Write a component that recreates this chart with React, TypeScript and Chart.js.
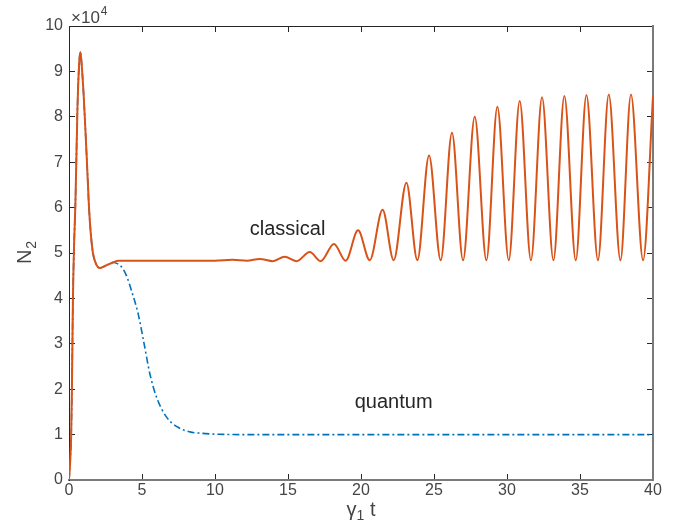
import React, { useEffect, useRef } from "react";
import { Chart, registerables } from "chart.js";

Chart.register(...registerables);

// ---- data (N2 in units of 10^4, time in units of gamma_1 t) ----
const X_TICKS = [0, 5, 10, 15, 20, 25, 30, 35, 40];
const Y_TICKS = [0, 1, 2, 3, 4, 5, 6, 7, 8, 9, 10];

const classicalT = [
  0, 0.08, 0.15, 0.2, 0.27, 0.35, 0.44, 0.58, 0.7, 0.78, 0.88, 1.0, 1.08, 1.23, 1.37, 1.5, 1.64, 1.85, 2.1, 2.5,
  3.0, 3.4, 5, 8, 10, 11.2, 12.2, 13.06, 13.97, 14.77, 15.58, 16.49, 17.24, 18.15, 18.95, 19.8, 20.6, 21.48,
  22.24, 23.11, 23.86, 24.66, 25.46, 26.23, 26.99, 27.79, 28.59, 29.34, 30.12, 30.87, 31.64, 32.4, 33.18,
  33.93, 34.71, 35.44, 36.23, 36.97, 37.77, 38.49, 39.32, 40,
];
const classicalN = [
  0, 0.4, 1.0, 2.0, 4.0, 5.2, 6.1, 8.2, 9.2, 9.43, 9.1, 8.5, 8.0, 7.0, 6.0, 5.4, 5.0, 4.76, 4.67, 4.72,
  4.79, 4.83, 4.83, 4.83, 4.83, 4.85, 4.83, 4.87, 4.82, 4.92, 4.82, 5.02, 4.82, 5.2, 4.83, 5.5, 4.84, 5.95,
  4.84, 6.55, 4.84, 7.15, 4.84, 7.65, 4.84, 8.0, 4.84, 8.22, 4.84, 8.35, 4.84, 8.43, 4.84,
  8.46, 4.84, 8.48, 4.84, 8.49, 4.84, 8.49, 4.84, 8.45,
];

const quantumT = [
  0, 0.08, 0.15, 0.2, 0.27, 0.35, 0.44, 0.58, 0.7, 0.78, 0.88, 1.0, 1.08, 1.23, 1.37, 1.5, 1.64, 1.85, 2.1, 2.5,
  3.0, 3.4, 3.7, 4.0, 4.27, 4.73, 5.18, 5.53, 5.99, 6.67, 7.58, 8.27, 9.0, 10, 12, 40,
];
const quantumN = [
  0, 0.4, 1.0, 2.0, 4.0, 5.2, 6.1, 8.2, 9.2, 9.43, 9.1, 8.5, 8.0, 7.0, 6.0, 5.4, 5.0, 4.76, 4.67, 4.72,
  4.79, 4.75, 4.65, 4.45, 4.18, 3.67, 2.94, 2.35, 1.83, 1.39, 1.14, 1.06, 1.03, 1.01, 1.0, 1.0,
];

const FONT = "'Liberation Sans', Arial, Helvetica, sans-serif";
const TICK_COLOR = "#454545";
const TEXT_COLOR = "#262626";

const textPlugin = {
  id: "texts",
  afterDraw(chart: any) {
    const { ctx, chartArea, scales } = chart;
    const xs = scales.x;
    const ys = scales.y;
    ctx.save();
    // exponent label
    ctx.fillStyle = TICK_COLOR;
    ctx.textAlign = "left";
    ctx.textBaseline = "alphabetic";
    ctx.font = `17px ${FONT}`;
    const ex = chartArea.left + 2;
    const ey = chartArea.top - 3;
    ctx.fillText("×10", ex, ey);
    const w1 = ctx.measureText("×10").width;
    ctx.font = `12px ${FONT}`;
    ctx.fillText("4", ex + w1 + 1, ey - 8);

    // annotations
    ctx.fillStyle = TEXT_COLOR;
    ctx.font = `20px ${FONT}`;
    ctx.fillText("classical", xs.getPixelForValue(12.38), ys.getPixelForValue(5.4));
    ctx.fillText("quantum", xs.getPixelForValue(19.57), ys.getPixelForValue(1.59));

    // x axis title: gamma_1 t
    ctx.fillStyle = TICK_COLOR;
    ctx.font = `20px ${FONT}`;
    const g = "γ";
    const t = " t";
    const gw = ctx.measureText(g).width;
    const tw = ctx.measureText(t).width;
    ctx.font = `14px ${FONT}`;
    const sw = ctx.measureText("1").width;
    const total = gw + sw + tw;
    const cx = (chartArea.left + chartArea.right) / 2;
    const x0 = cx - total / 2;
    const by = 516;
    ctx.font = `20px ${FONT}`;
    ctx.fillText(g, x0, by);
    ctx.font = `14px ${FONT}`;
    ctx.fillText("1", x0 + gw, by + 4);
    ctx.font = `20px ${FONT}`;
    ctx.fillText(t, x0 + gw + sw, by);

    // y axis title: N_2 (rotated)
    ctx.translate(31, (chartArea.top + chartArea.bottom) / 2);
    ctx.rotate(-Math.PI / 2);
    ctx.font = `20px ${FONT}`;
    const nw = ctx.measureText("N").width;
    ctx.font = `14px ${FONT}`;
    const n2w = ctx.measureText("2").width;
    const ny0 = -(nw + n2w) / 2;
    ctx.font = `20px ${FONT}`;
    ctx.fillText("N", ny0, 0);
    ctx.font = `14px ${FONT}`;
    ctx.fillText("2", ny0 + nw + 1, 5);
    ctx.restore();
  },
};

export default function App() {
  const ref = useRef<HTMLCanvasElement | null>(null);

  useEffect(() => {
    if (!ref.current) return;
    const tickFont = { size: 16, family: FONT };
    const chart = new Chart(ref.current, {
      type: "line",
      data: {
        datasets: [
          {
            label: "classical",
            data: classicalT.map((t, i) => ({ x: t, y: classicalN[i] })),
            borderColor: "#D95319",
            borderWidth: 2,
            pointRadius: 0,
            cubicInterpolationMode: "monotone",
            fill: false,
          },
          {
            label: "quantum",
            data: quantumT.map((t, i) => ({ x: t, y: quantumN[i] })),
            borderColor: "#0072BD",
            borderWidth: 1.6,
            borderDash: [7, 3, 2, 3],
            pointRadius: 0,
            cubicInterpolationMode: "monotone",
            fill: false,
          },
        ],
      },
      options: {
        animation: false,
        responsive: false,
        devicePixelRatio: 1,
        layout: { padding: { top: 26, right: 21, left: 0, bottom: 0 } },
        plugins: { legend: { display: false }, tooltip: { enabled: false } },
        scales: {
          x: {
            type: "linear",
            position: "bottom",
            min: 0,
            max: 40,
            afterBuildTicks: (s: any) => {
              s.ticks = X_TICKS.map((v) => ({ value: v }));
            },
            afterFit: (s: any) => {
              s.height = 46;
            },
            grid: { drawOnChartArea: false, tickLength: -6, color: "#262626" },
            border: { color: "#7a7a7a", width: 2 },
            ticks: { padding: 7, color: TICK_COLOR, font: tickFont, maxRotation: 0 },
          },
          y: {
            type: "linear",
            position: "left",
            min: 0,
            max: 10,
            afterBuildTicks: (s: any) => {
              s.ticks = Y_TICKS.map((v) => ({ value: v }));
            },
            afterFit: (s: any) => {
              s.width = 69;
            },
            grid: { drawOnChartArea: false, tickLength: -6, color: "#262626" },
            border: { color: "#262626", width: 1 },
            ticks: { padding: 12, color: TICK_COLOR, font: tickFont },
          },
          x2: {
            type: "linear",
            position: "top",
            min: 0,
            max: 40,
            afterBuildTicks: (s: any) => {
              s.ticks = X_TICKS.map((v) => ({ value: v }));
            },
            afterFit: (s: any) => {
              s.height = 0;
            },
            grid: { drawOnChartArea: false, tickLength: -6, color: "#262626" },
            border: { color: "#262626", width: 1 },
            ticks: { display: false },
          },
          y2: {
            type: "linear",
            position: "right",
            min: 0,
            max: 10,
            afterBuildTicks: (s: any) => {
              s.ticks = Y_TICKS.map((v) => ({ value: v }));
            },
            afterFit: (s: any) => {
              s.width = 0;
            },
            grid: { drawOnChartArea: false, tickLength: -6, color: "#262626" },
            border: { color: "#7a7a7a", width: 2 },
            ticks: { display: false },
          },
        },
      } as any,
      plugins: [textPlugin],
    });
    return () => chart.destroy();
  }, []);

  return (
    <div style={{ position: "fixed", left: 0, top: 0, width: 674, height: 526, background: "#fff" }}>
      <canvas ref={ref} width={674} height={526} style={{ display: "block" }} />
    </div>
  );
}
